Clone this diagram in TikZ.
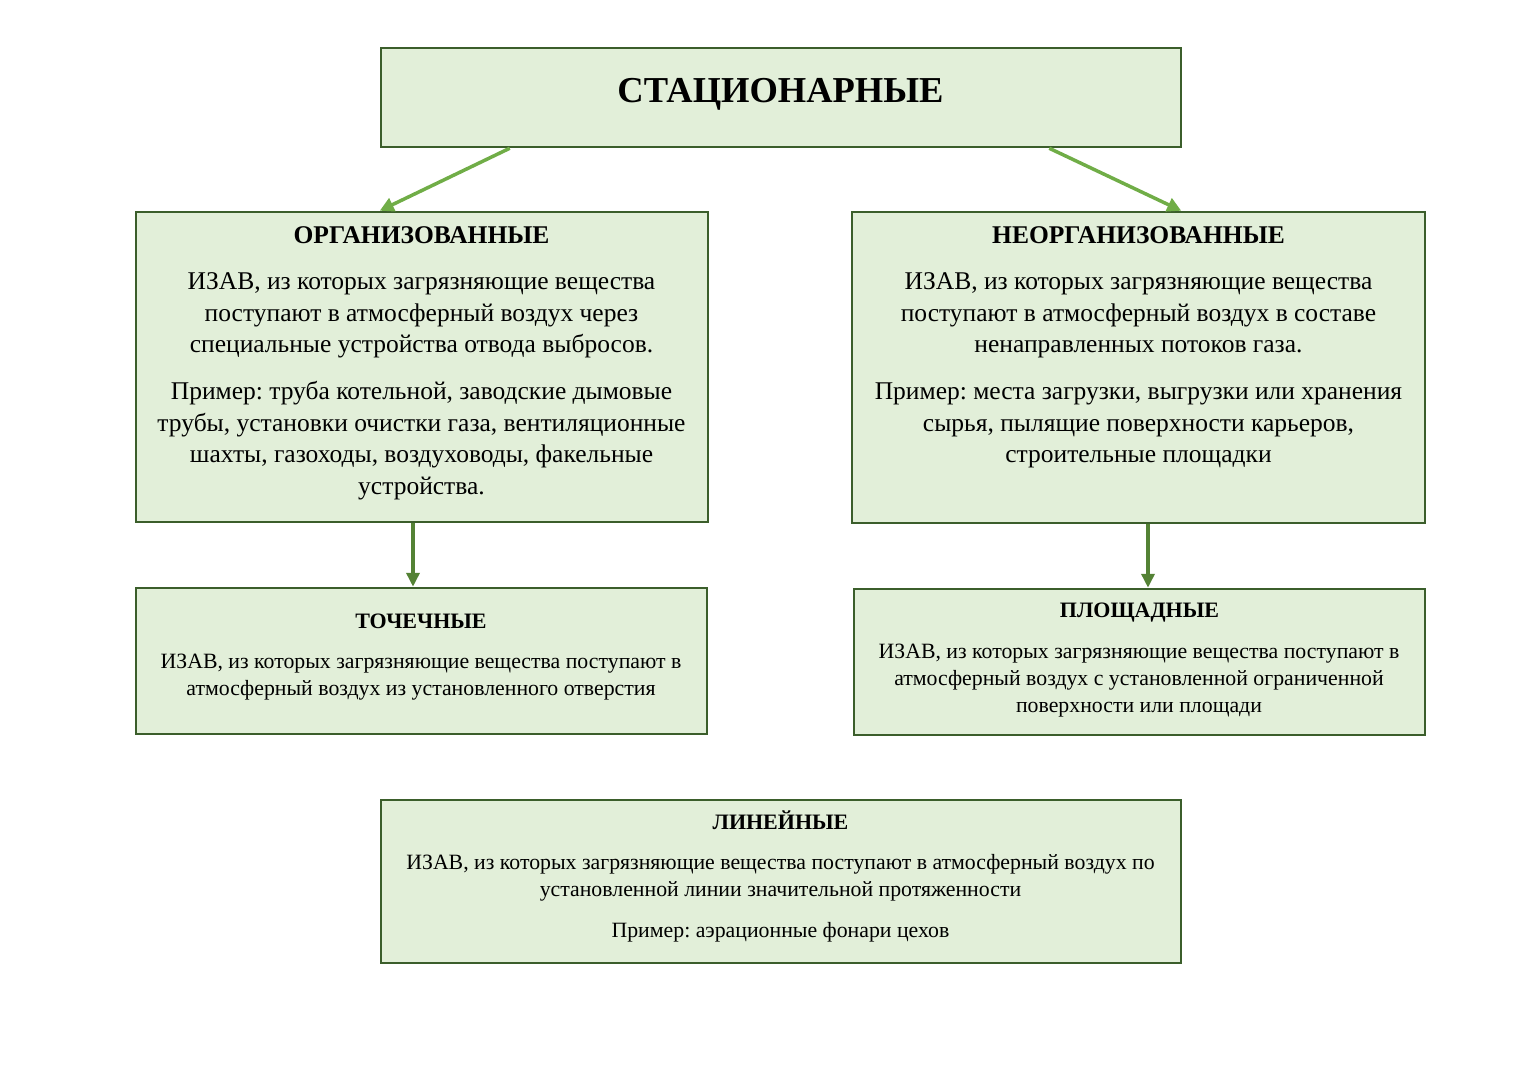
\documentclass[tikz,border=0pt]{standalone}
\usepackage{fontspec}
\setmainfont{Liberation Serif}
\usetikzlibrary{arrows.meta}
\usetikzlibrary{positioning}
\frenchspacing

\definecolor{boxfill}{HTML}{E2EFD9}
\definecolor{boxline}{HTML}{3B5E2B}
\definecolor{arrlight}{HTML}{70AD47}
\definecolor{arrdark}{HTML}{548235}

\begin{document}
\begin{tikzpicture}[x=1pt,y=-1pt,
  box/.style={draw=boxline,fill=boxfill,line width=2.5pt,inner sep=0pt},
  headbig/.style={anchor=base,inner sep=0pt,font=\fontsize{25.5}{30}\selectfont\bfseries},
  headsmall/.style={anchor=base,inner sep=0pt,font=\fontsize{22}{26}\selectfont\bfseries},
  txtbig/.style={anchor=north,align=center,inner sep=0pt,font=\fontsize{25.5}{31.5}\selectfont},
  txtsmall/.style={anchor=north,align=center,inner sep=0pt,font=\fontsize{21.8}{27}\selectfont},
  toparrow/.style={draw=arrlight,line width=3.5pt,-{Triangle[length=14pt,width=14pt]}},
  downarrow/.style={draw=arrdark,line width=3.5pt,-{Triangle[length=14pt,width=13pt]}}]
  \useasboundingbox (0,0) rectangle (1528,1080);

  % boxes
  \node[box,minimum width=800,minimum height=99] (stat) at (781,97.5) {};
  \node[box,minimum width=572,minimum height=310] (org) at (422,367) {};
  \node[box,minimum width=573,minimum height=311] (neorg) at (1138.5,367.5) {};
  \node[box,minimum width=571,minimum height=146] (tochka) at (421.5,661) {};
  \node[box,minimum width=571,minimum height=146] (plosh) at (1139.5,662) {};
  \node[box,minimum width=800,minimum height=163] (lin) at (781,881.5) {};

  % titles and texts
  \node[anchor=base,inner sep=0pt,font=\fontsize{36.5}{42}\selectfont\bfseries] (stattxt) at (780.5,102) {СТАЦИОНАРНЫЕ};

  \node[headbig] (orghead) at (421.5,243) {ОРГАНИЗОВАННЫЕ};
  \node[txtbig] (orgtxt) at (421.5,272.5) {ИЗАВ, из которых загрязняющие вещества\\
    поступают в атмосферный воздух через\\
    специальные устройства отвода выбросов.\\[15.5pt]
    Пример: труба котельной, заводские дымовые\\
    трубы, установки очистки газа, вентиляционные\\
    шахты, газоходы, воздуховоды, факельные\\
    устройства.};

  \node[headbig] (neorghead) at (1138.5,243) {НЕОРГАНИЗОВАННЫЕ};
  \node[txtbig] (neorgtxt) at (1138.5,272.5) {ИЗАВ, из которых загрязняющие вещества\\
    поступают в атмосферный воздух в составе\\
    ненаправленных потоков газа.\\[15.5pt]
    Пример: места загрузки, выгрузки или хранения\\
    сырья, пылящие поверхности карьеров,\\
    строительные площадки};

  \node[headsmall] (tochkahead) at (421,628) {ТОЧЕЧНЫЕ};
  \node[txtsmall] (tochkatxt) at (421,653.5) {ИЗАВ, из которых загрязняющие вещества поступают в\\
    атмосферный воздух из установленного отверстия};

  \node[headsmall] (ploshhead) at (1139.5,617) {ПЛОЩАДНЫЕ};
  \node[txtsmall] (ploshtxt) at (1139,643.5) {ИЗАВ, из которых загрязняющие вещества поступают в\\
    атмосферный воздух с установленной ограниченной\\
    поверхности или площади};

  \node[headsmall] (linhead) at (780.5,829) {ЛИНЕЙНЫЕ};
  \node[txtsmall] (lintxt) at (780.5,854.5) {ИЗАВ, из которых загрязняющие вещества поступают в атмосферный воздух по\\
    установленной линии значительной протяженности\\[14pt]
    Пример: аэрационные фонари цехов};

  % arrows
  \draw[toparrow] ([xshift=130pt]stat.south west) -- ([xshift=245pt]org.north west);
  \draw[toparrow] ([xshift=-133pt]stat.south east) -- ([xshift=-245pt]neorg.north east);
  \draw[downarrow] ([xshift=-9pt]org.south) -- ([xshift=-8.5pt]tochka.north);
  \draw[downarrow] ([xshift=9.5pt]neorg.south) -- ([xshift=8.5pt]plosh.north);
\end{tikzpicture}
\end{document}
